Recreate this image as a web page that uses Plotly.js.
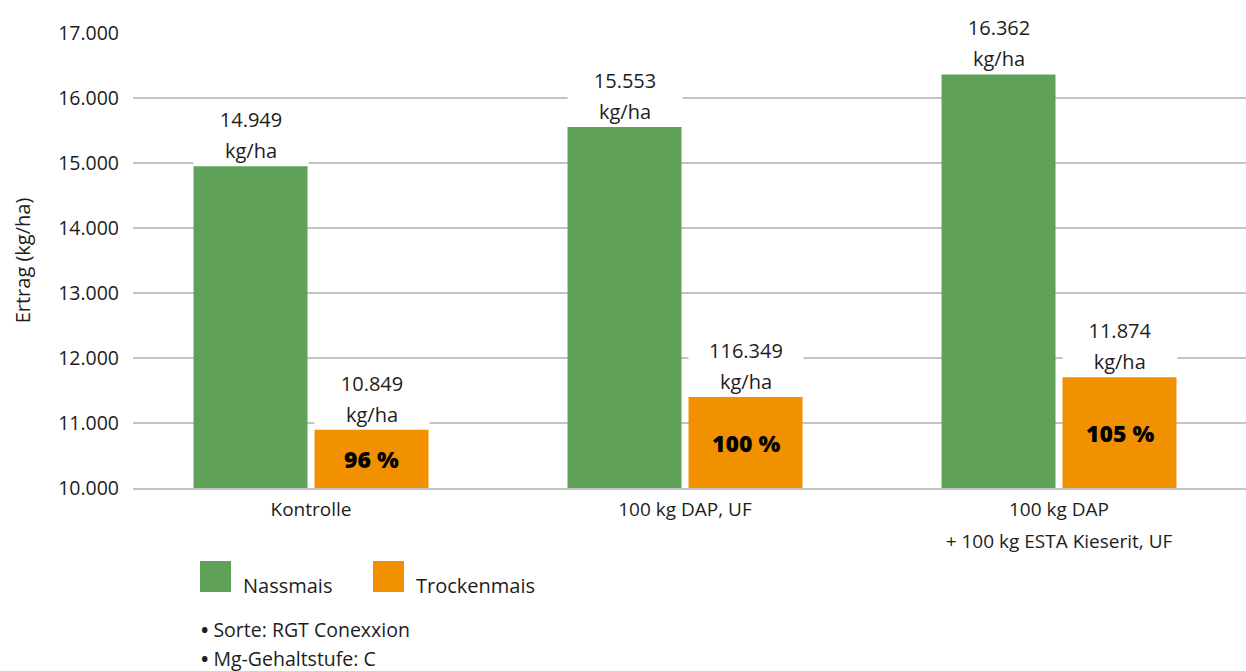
<!DOCTYPE html>
<html>
<head>
<meta charset="utf-8">
<script src="https://cdn.plot.ly/plotly-3.0.1.min.js"></script>
<style>html,body{margin:0;padding:0;background:#fff;}#chart{width:1246px;height:671px;}</style>
</head>
<body>
<div id="chart"></div>
<script>
// ---- data ----
const categories = ['Kontrolle', '100 kg DAP, UF', '100 kg DAP<br>+ 100 kg ESTA Kieserit, UF'];
const seriesNames = ['Nassmais', 'Trockenmais'];
const nassmais = [14949, 15553, 16362];
const trockenmais = [10900, 11400, 11705];
const nassLabels = ['14.949', '15.553', '16.362'];
const trockenLabels = ['10.849', '116.349', '11.874'];
const relLabels = ['96 %', '100 %', '105 %'];
const unitLabel = 'kg/ha';
const yTitle = 'Ertrag (kg/ha)';
const yRange = [10000, 17000];
const notes = ['Sorte: RGT Conexxion', 'Mg-Gehaltstufe: C'];

// ---- style ----
const FONT = '"Open Sans", Lato, sans-serif';
const TXT = '#1d1d1b';
const colors = ['#5fa159', '#f29100'];
const W = 1246, H = 671, L = 133, R = 0, T = 33, B = 183;
const pw = W - L - R, ph = H - T - B;
const px = x => (x - L) / pw;
const py = y => (H - B - y) / ph;
const BAR_SHIFT = 60.5;

const traces = [
  {type: 'bar', name: seriesNames[0], x: categories, y: nassmais,
   marker: {color: colors[0]}, hoverinfo: 'none'},
  {type: 'bar', name: seriesNames[1], x: categories, y: trockenmais,
   marker: {color: colors[1]}, hoverinfo: 'none'}
];

const annotations = [];
const labelSets = [nassLabels, trockenLabels];
const valueSets = [nassmais, trockenmais];
for (let s = 0; s < 2; s++) {
  for (let i = 0; i < categories.length; i++) {
    annotations.push({
      x: categories[i], y: valueSets[s][i], xref: 'x', yref: 'y',
      xshift: (s === 0 ? -1 : 1) * BAR_SHIFT, yshift: 0,
      yanchor: 'bottom', xanchor: 'center', showarrow: false,
      text: `<span style="font-size:20px">${labelSets[s][i]}</span><br><span style="font-size:20px">${unitLabel}</span>`,
      font: {family: FONT, size: 24, color: TXT},
      bgcolor: '#ffffff', width: 112, borderpad: 1
    });
  }
}
// relative yield labels centred in the Trockenmais bars
for (let i = 0; i < categories.length; i++) {
  annotations.push({
    x: categories[i], y: (yRange[0] + trockenmais[i]) / 2, xref: 'x', yref: 'y',
    xshift: BAR_SHIFT, yanchor: 'middle', xanchor: 'center', showarrow: false,
    text: relLabels[i],
    font: {family: FONT, size: 23, color: '#000', weight: 800}
  });
}
// legend (large swatches)
const legendX = [200, 373];
const shapes = [];
seriesNames.forEach((n, k) => {
  shapes.push({type: 'rect', xref: 'paper', yref: 'paper',
    x0: px(legendX[k]), x1: px(legendX[k] + 31), y0: py(592), y1: py(561),
    fillcolor: colors[k], line: {width: 0}});
  annotations.push({xref: 'paper', yref: 'paper', x: px(legendX[k] + 41), y: py(585),
    xanchor: 'left', yanchor: 'middle', showarrow: false, text: n,
    font: {family: FONT, size: 20, color: TXT}});
});
notes.forEach((t, k) => {
  annotations.push({xref: 'paper', yref: 'paper', x: px(199), y: py(629 + 29 * k),
    xanchor: 'left', yanchor: 'middle', showarrow: false,
    text: `<b>•</b> ${t}`,
    font: {family: FONT, size: 19.5, color: TXT}});
});

const layout = {
  width: W, height: H,
  margin: {l: L, r: R, t: T, b: B, pad: 0},
  paper_bgcolor: '#fff', plot_bgcolor: '#fff',
  separators: ',.',
  barmode: 'group', bargap: 0.353, bargroupgap: 0.058,
  showlegend: false,
  font: {family: FONT, color: TXT},
  xaxis: {
    type: 'category', range: [-0.476, 2.5], automargin: false,
    tickvals: categories,
    ticktext: categories.map(c => c.split('<br>').map(l => `<span style="font-size:19px">${l}</span>`).join('<br>')),
    tickfont: {family: FONT, size: 24.6, color: TXT},
    ticklabelstandoff: -3,
    showline: true, linecolor: '#c4c4c4', linewidth: 1.6,
    showgrid: false, ticks: '', fixedrange: true
  },
  yaxis: {
    range: yRange, dtick: 1000, tickformat: ',d', automargin: false,
    tickfont: {family: FONT, size: 19.5, color: TXT},
    ticks: '', ticklabelstandoff: 13,
    showgrid: true, gridcolor: '#c4c4c4', gridwidth: 1.6,
    zeroline: false, showline: false, fixedrange: true,
    title: {text: yTitle, font: {family: FONT, size: 20, color: TXT}, standoff: 22}
  },
  annotations: annotations, shapes: shapes
};

Plotly.newPlot('chart', traces, layout, {displayModeBar: false, staticPlot: true});
</script>
</body>
</html>
